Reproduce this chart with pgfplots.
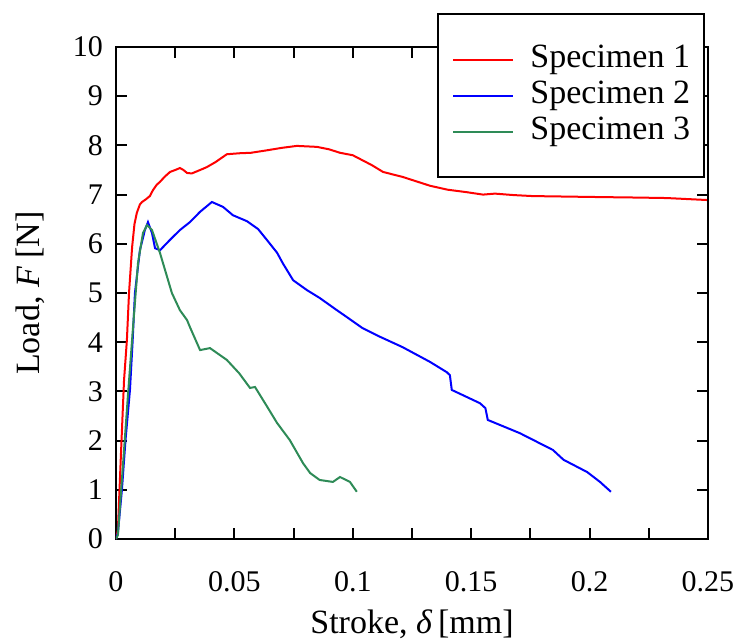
\documentclass[border=0pt]{standalone}
\usepackage{pgfplots}
\pgfplotsset{compat=1.18}
\usepackage{fontspec}
\setmainfont{Liberation Serif}
\definecolor{sgreen}{RGB}{46,139,87}
\definecolor{sred}{RGB}{255,0,0}
\definecolor{sblue}{RGB}{0,0,255}
\begin{document}
\begin{tikzpicture}
\begin{axis}[
  name=ax,
  scale only axis,
  width=296pt, height=246pt,
  xmin=0, xmax=0.25, ymin=0, ymax=10,
  axis line style={line width=1.4pt},
  xtick={0,0.05,0.1,0.15,0.2,0.25},
  xticklabels={0,0.05,0.1,0.15,0.2,0.25},
  minor xtick={0.025,0.075,0.125,0.175,0.225},
  ytick={0,1,...,10},
  tick align=inside,
  major tick length=5.5pt,
  minor tick length=5.5pt,
  tick style={line width=1pt, black},
  /pgf/number format/assume math mode=true,
  ticklabel style={font=\fontsize{15}{18}\selectfont},
  xticklabel style={yshift=-12.5pt},
  yticklabel style={xshift=-3pt},
  xlabel={Stroke, \textit{δ}\,[mm]},
  ylabel={Load, \textit{F} [N]},
  label style={font=\fontsize{17}{20}\selectfont},
  xlabel style={at={([yshift=-47pt]axis description cs:0.5,0)}, anchor=base},
  ylabel style={at={([xshift=-38pt]axis description cs:0,0.5)}, anchor=base},
  legend cell align=left,
  legend image code/.code={\draw[#1] (0pt,0pt) -- (30pt,0pt);},
  legend style={
    at={([xshift=-1.5pt,yshift=17pt]axis description cs:1,1)},
    anchor=north east,
    draw=black, line width=1pt,
    fill=white,
    font=\fontsize{17}{20}\selectfont,
    inner xsep=7pt, inner ysep=14.8pt,
    row sep=2pt, column sep=8pt,
    nodes={inner xsep=0pt, inner ysep=0pt, text height=12pt, text depth=4pt},
  },
]
\addplot[sred, line width=1pt] coordinates {
(0,0) (0.0008,0.18) (0.0017,1.26) (0.0025,2.2) (0.0034,3.23) (0.0046,4.04)
(0.0055,5.0) (0.0068,5.93) (0.0078,6.4) (0.0088,6.63) (0.0101,6.8) (0.011,6.85)
(0.0125,6.9) (0.0143,6.97) (0.0156,7.09) (0.0172,7.2) (0.0186,7.26) (0.0205,7.36)
(0.0228,7.46) (0.025,7.5) (0.027,7.54) (0.0285,7.5) (0.030,7.44) (0.032,7.43)
(0.034,7.47) (0.0365,7.52) (0.0384,7.56) (0.042,7.66) (0.0468,7.82) (0.052,7.84)
(0.057,7.85) (0.0637,7.9) (0.07,7.95) (0.0764,7.99) (0.0849,7.97) (0.09,7.92)
(0.0946,7.85) (0.1,7.8) (0.104,7.70) (0.108,7.6) (0.1128,7.46) (0.121,7.36)
(0.1326,7.18) (0.14,7.1) (0.148,7.05) (0.155,7.0) (0.16,7.02) (0.168,6.99) (0.176,6.97)
(0.19,6.96) (0.204,6.95) (0.22,6.94) (0.2326,6.93) (0.2495,6.89)
};
\addlegendentry{Specimen 1}
\addplot[sblue, line width=1pt] coordinates {
(0,0) (0.0008,0.12) (0.0025,1.0) (0.004,2.0) (0.0059,3.03) (0.007,4.0) (0.008,5.0)
(0.0101,5.87) (0.0122,6.28) (0.0135,6.44) (0.0152,6.22) (0.0165,5.91) (0.0186,5.87)
(0.0228,6.08) (0.027,6.28) (0.0312,6.44) (0.0355,6.65) (0.0405,6.85) (0.0452,6.75)
(0.0494,6.58) (0.0553,6.46) (0.06,6.3) (0.0637,6.08) (0.068,5.82) (0.0705,5.6)
(0.0748,5.26) (0.0806,5.06) (0.086,4.9) (0.0933,4.65) (0.0975,4.51) (0.104,4.29)
(0.1115,4.11) (0.121,3.9) (0.1326,3.6) (0.1397,3.39) (0.141,3.33) (0.1418,3.03)
(0.1537,2.76) (0.156,2.66) (0.157,2.42) (0.1706,2.15) (0.1845,1.81) (0.189,1.61)
(0.199,1.36) (0.2044,1.16) (0.209,0.96)
};
\addlegendentry{Specimen 2}
\addplot[sgreen, line width=1pt] coordinates {
(0,0) (0.0008,0.08) (0.003,1.54) (0.005,2.89) (0.0072,4.31) (0.0093,5.61)
(0.0114,6.22) (0.0131,6.38) (0.0152,6.28) (0.0186,5.81) (0.0236,5.0) (0.027,4.65)
(0.030,4.45) (0.0312,4.31) (0.0355,3.84) (0.0397,3.88) (0.0468,3.64) (0.052,3.37)
(0.0566,3.07) (0.0587,3.09) (0.0637,2.7) (0.068,2.36) (0.0734,2.01) (0.079,1.54)
(0.082,1.34) (0.086,1.2) (0.0916,1.16) (0.0946,1.26) (0.0988,1.16) (0.1017,0.96)
};
\addlegendentry{Specimen 3}
\end{axis}
\pgfresetboundingbox
\path ([shift={(-58pt,-50pt)}]ax.south west) rectangle ([shift={(16pt,23.5pt)}]ax.north east);
\end{tikzpicture}
\end{document}
